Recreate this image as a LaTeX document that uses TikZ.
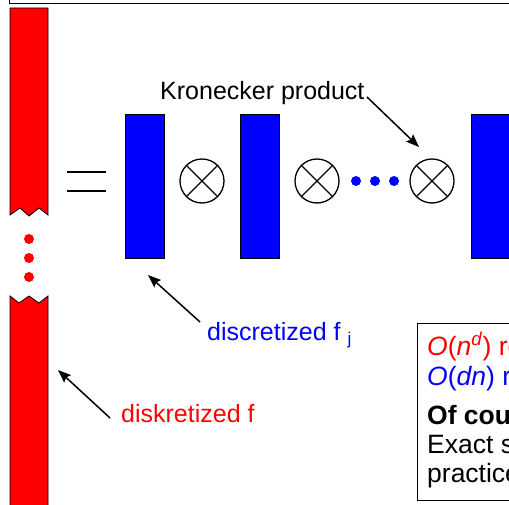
\documentclass[tikz,border=0pt]{standalone}
\usepackage{fontspec}
\setmainfont{Liberation Sans}
\usetikzlibrary{arrows.meta}
\definecolor{pured}{RGB}{255,0,0}
\definecolor{publue}{RGB}{0,0,255}
\tikzset{
  bigfont/.style={font=\fontsize{25}{29}\selectfont},
  txt/.style={bigfont, inner sep=0pt, anchor=base west},
  boxtxt/.style={font=\fontsize{26.5}{29}\selectfont, inner sep=0pt, anchor=base west},
  bar/.style={draw=black, line width=0.8pt, fill=publue, minimum width=39pt, minimum height=144pt, inner sep=0pt},
  otim/.style={draw=black, line width=1.3pt, circle, minimum size=44pt, inner sep=0pt},
  dotr/.style={circle, fill=pured, minimum size=10pt, inner sep=0pt},
  dotb/.style={circle, fill=publue, minimum size=10pt, inner sep=0pt},
  arr/.style={line width=1.5pt, -{Stealth[length=13pt,width=10pt,inset=2pt]}},
}
\begin{document}
\begin{tikzpicture}[x=1pt,y=-1pt]
\useasboundingbox (0,0) rectangle (509,505);
\clip (0,0) rectangle (509,505);
% top frame
\draw[line width=0.8pt] (9,-5) -- (9,3) -- (515,3);
% red bar
\filldraw[fill=pured, draw=black, line width=0.8pt] (10,8) -- (48,8) -- (48,215) -- (39,208) -- (29,216) -- (20,208) -- (10,215) -- cycle;
\filldraw[fill=pured, draw=black, line width=0.8pt] (10,515) -- (10,296) -- (19,303) -- (29,296) -- (39,303) -- (48,296) -- (48,515);
\node[dotr] (r1) at (29,239) {};
\node[dotr] (r2) at (29,258) {};
\node[dotr] (r3) at (29,277) {};
% equals
\draw[line width=1.2pt] (67,172) -- (106,172);
\draw[line width=1.2pt] (67,191) -- (106,191);
% blue bars
\node[bar] (b1) at (144.5,186) {};
\node[bar] (b2) at (259.5,186) {};
\node[bar] (b3) at (490.5,186) {};
% otimes
\foreach \n/\x in {o1/202,o2/317,o3/432}{
  \node[otim] (\n) at (\x,181) {};
  \draw[line width=1.3pt] (\n.45) -- (\n.225) (\n.135) -- (\n.315);
}
\node[dotb] (d1) at (356,181) {};
\node[dotb] (d2) at (375,181) {};
\node[dotb] (d3) at (394,181) {};
% labels
\node[txt] (kron) at (160,100) {Kronecker product};
\coordinate (kronA) at (367,97);
\coordinate (kronB) at (419,147);
\draw[arr] (kronA) -- (kronB);
\node[txt, text=publue] (fj) at (207,340) {discretized f\hspace{7pt}\raisebox{-5pt}{\fontsize{17}{17}\selectfont j}};
\coordinate (fjA) at (200,322);
\coordinate (fjB) at (148,275);
\draw[arr] (fjA) -- (fjB);
\node[txt, text=pured] (f) at (121,422) {diskretized f};
\coordinate (fA) at (110,418);
\coordinate (fB) at (58,370);
\draw[arr] (fA) -- (fB);
% box
\node[draw=black, line width=0.8pt, anchor=north west, minimum width=200pt, minimum height=177pt, inner sep=0pt] (box) at (417,323) {};
\node[boxtxt, text=pured] (l1) at (427,355) {\textit{O}(\textit{n}\textsuperscript{\textit{d}}) real numbers};
\node[boxtxt, text=publue] (l2) at (427,385) {\textit{O}(\textit{dn}) real numbers};
\node[boxtxt] (l3) at (427,424) {\textbf{Of course:}};
\node[boxtxt] (l4) at (427,453) {Exact separation is rare in};
\node[boxtxt] (l5) at (427,482) {practice};
\end{tikzpicture}
\end{document}
